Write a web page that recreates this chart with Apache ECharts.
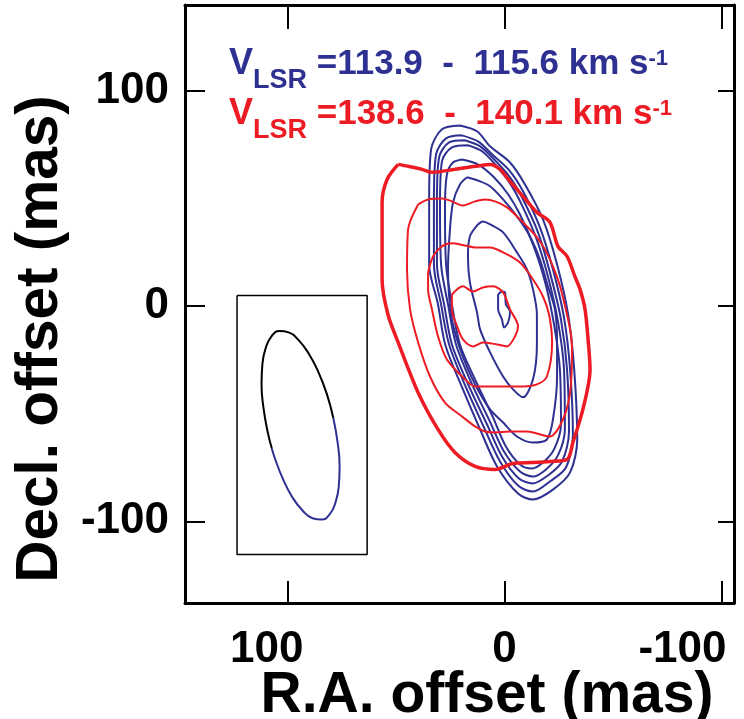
<!DOCTYPE html>
<html><head><meta charset="utf-8">
<script src="https://cdn.jsdelivr.net/npm/echarts@6/dist/echarts.min.js"></script>
<style>html,body{margin:0;padding:0;background:#fff}#c{width:744px;height:719px}</style>
</head><body><div id="c"></div>
<script>
// Axis tick values (mas)
const xTicks = [100, 0, -100];
const yTicks = [100, 0, -100];
// Blue contours (V_LSR 113.9-115.6), [RA offset, Decl offset] in mas
const blue1 = [[20.6,84.0],[12.7,81.3],[6.7,74.3],[-2.5,66.8],[-9.4,56.6],[-17.7,40.3],[-24.2,19.4],[-29.3,-3.8],[-32.1,-29.4],[-33.5,-62.0],[-30.2,-77.3],[-22.3,-85.3],[-13.1,-89.9],[-6.2,-87.1],[3.5,-74.5],[11.3,-57.3],[19.6,-37.8],[27.4,-17.8],[30.7,0.8],[34.8,19.4],[34.8,49.6],[33.9,72.9],[28.9,82.2],[20.6,84.0]];
const blue2 = [[19.7,79.4],[12.3,76.6],[5.8,70.6],[-2.5,62.7],[-8.5,53.4],[-16.3,36.6],[-22.3,17.1],[-27.4,-5.3],[-30.2,-29.4],[-31.5,-59.7],[-28.3,-75.0],[-20.9,-81.5],[-13.1,-86.2],[-6.2,-83.4],[2.1,-72.2],[9.5,-56.4],[17.8,-37.8],[25.6,-17.8],[29.3,0.8],[32.6,19.4],[32.6,49.6],[31.6,70.6],[27.0,78.0],[19.7,79.4]];
const blue3 = [[18.3,77.1],[11.3,74.3],[4.9,68.3],[-2.5,59.9],[-8.0,50.6],[-15.4,34.3],[-20.9,15.7],[-26.0,-6.2],[-28.8,-29.4],[-29.7,-58.3],[-26.5,-72.2],[-20.0,-78.7],[-13.1,-82.4],[-6.6,-80.1],[1.2,-69.9],[8.1,-55.0],[16.4,-37.3],[24.3,-17.8],[27.9,0.8],[31.2,19.4],[31.2,49.6],[30.2,69.2],[25.6,76.1],[18.3,77.1]];
const blue4 = [[16.9,74.8],[10.4,72.0],[4.0,65.5],[-2.5,57.1],[-7.6,47.8],[-14.5,31.9],[-20.0,13.8],[-24.6,-7.1],[-27.4,-29.4],[-27.8,-57.3],[-24.6,-69.4],[-19.1,-75.9],[-13.1,-79.2],[-7.1,-76.9],[0.3,-67.6],[6.7,-53.8],[15.0,-36.4],[22.4,-17.8],[26.1,0.8],[29.3,19.4],[29.8,47.3],[28.9,67.3],[24.3,73.8],[16.9,74.8]];
const blue5 = [[19.6,68.2],[12.3,65.9],[4.9,59.9],[-1.6,52.0],[-7.1,42.6],[-13.1,28.7],[-18.6,11.5],[-22.8,-8.5],[-25.5,-29.4],[-26.0,-55.0],[-22.8,-66.6],[-17.7,-72.7],[-12.6,-75.5],[-7.1,-73.6],[-0.6,-65.3],[5.3,-51.8],[13.2,-35.0],[20.6,-17.8],[24.3,0.8],[27.0,19.4],[27.5,45.0],[26.6,61.3],[23.8,66.8],[19.6,68.2]];
const blue6 = [[17.3,59.9],[11.3,58.0],[6.7,55.7],[0.7,49.6],[-5.7,41.7],[-11.7,32.4],[-16.3,21.7],[-20.0,9.2],[-23.2,-1.5],[-24.2,-16.8],[-24.2,-32.7],[-22.3,-52.7],[-19.5,-62.0],[-13.1,-63.4],[-5.7,-60.6],[0.7,-54.1],[6.7,-48.0],[13.6,-36.4],[19.6,-22.5],[24.3,-6.2],[26.1,17.1],[25.2,35.7],[23.8,48.2],[20.6,56.6],[17.3,59.9]];
const blue7 = [[12.3,38.0],[10.0,39.4],[6.7,38.0],[0.7,34.3],[-5.7,25.0],[-10.3,17.1],[-13.1,7.8],[-14.9,-3.8],[-14.9,-17.8],[-13.1,-34.0],[-8.5,-42.4],[-3.9,-38.7],[0.7,-32.7],[6.7,-21.5],[11.3,-10.8],[12.7,-3.0],[16.0,11.0],[16.9,23.1],[16.0,32.4],[12.3,38.0]];
const blue8 = [[3.0,5.4],[1.2,6.8],[-0.2,6.4],[-0.6,0.8],[-2.5,-2.5],[-1.6,-7.6],[0.3,-9.9],[1.2,-6.2],[3.0,-1.5],[3.0,3.1],[3.0,5.4]];
// Red contours (V_LSR 138.6-140.1)
const red1 = [[49.1,65.9],[44.5,65.0],[38.1,63.6],[33.5,62.2],[22.9,63.6],[13.6,65.0],[6.7,65.9],[2.1,63.6],[-2.5,58.0],[-8.5,51.0],[-14.9,43.6],[-20.9,39.0],[-24.6,27.8],[-28.8,23.2],[-32.4,13.8],[-34.8,7.8],[-37.1,-1.5],[-38.5,-15.5],[-39.4,-29.4],[-36.1,-48.0],[-31.5,-63.4],[-28.8,-71.3],[-20.9,-72.2],[-13.1,-72.7],[-3.9,-73.1],[4.4,-75.9],[13.6,-74.5],[22.9,-68.0],[30.7,-57.3],[39.9,-40.1],[49.1,-16.8],[53.8,-3.9],[56.5,12.4],[56.5,24.9],[56.5,48.2],[54.2,58.9],[49.1,65.9]];
const red2 = [[39.9,47.3],[35.3,49.6],[28.9,50.1],[24.3,48.7],[19.2,46.8],[13.6,48.7],[9.0,49.6],[4.4,48.7],[-1.1,45.9],[-5.7,41.7],[-10.3,37.1],[-14.9,32.0],[-18.6,26.4],[-22.3,18.5],[-25.6,9.2],[-27.9,-0.1],[-30.2,-10.8],[-31.1,-20.1],[-30.2,-40.1],[-26.9,-52.7],[-20.9,-60.6],[-10.3,-58.3],[-2.5,-58.3],[4.4,-58.7],[9.0,-58.3],[13.6,-55.9],[19.6,-51.3],[27.5,-44.8],[34.4,-32.7],[39.9,-16.8],[43.6,-1.5],[45.0,17.1],[44.5,35.7],[39.9,47.3]];
const red3 = [[35.3,15.7],[33.0,23.1],[28.9,27.8],[24.3,29.2],[18.3,28.2],[13.6,27.3],[6.7,27.3],[0.7,25.0],[-7.1,20.3],[-13.1,12.4],[-17.7,4.5],[-20.5,-3.9],[-21.9,-16.9],[-19.5,-32.7],[-14.9,-36.4],[-8.5,-37.3],[-1.1,-37.3],[6.7,-37.3],[13.6,-37.3],[19.6,-32.7],[26.6,-24.8],[30.7,-14.1],[33.5,-1.5],[35.3,7.8],[35.3,15.7]];
const red4 = [[24.3,5.4],[19.2,9.2],[14.6,6.8],[10.0,8.7],[5.3,9.2],[0.7,6.4],[-2.5,-1.5],[-6.2,-9.4],[-4.8,-14.1],[-1.1,-18.7],[3.5,-17.8],[10.0,-16.9],[14.6,-18.7],[19.2,-15.5],[21.9,-9.4],[24.3,-1.5],[24.3,5.4]];
// Beam outline (upper-left half black, lower-right half blue) and its box
const beamBlack = [[79.0,-52.0],[82.0,-40.8],[85.9,-30.6],[90.3,-22.1],[95.0,-15.8],[99.6,-12.2],[103.9,-11.6],[107.5,-14.0],[110.1,-19.2],[111.7,-26.8],[112.1,-36.4],[111.2,-47.3],[109.2,-58.8],[107.3,-66.3]];
const beamBlue = [[107.3,-66.3],[106.2,-70.0],[102.3,-80.2],[97.9,-88.8],[93.2,-95.0],[88.6,-98.6],[84.3,-99.2],[80.7,-96.8],[78.1,-91.6],[76.5,-84.0],[76.1,-74.4],[77.0,-63.5],[79.0,-52.0]];
const beamBox = [[123.4,5],[63.4,5],[63.4,-115.5],[123.4,-115.5],[123.4,5]];

const BLUE = '#2e3192', RED = '#ed1c24';
const FONT = 'Liberation Sans';

function contour(data, color, width) {
  return {type:'line', data:data, showSymbol:false, smooth:0.3, silent:true,
    lineStyle:{color:color, width:width}, animation:false};
}
const series = [
  contour(blue1, BLUE, 2), contour(blue2, BLUE, 2), contour(blue3, BLUE, 2), contour(blue4, BLUE, 2),
  contour(blue5, BLUE, 2), contour(blue6, BLUE, 2), contour(blue7, BLUE, 2), contour(blue8, BLUE, 2),
  contour(red1, RED, 3.5), contour(red2, RED, 2), contour(red3, RED, 2), contour(red4, RED, 2),
  {type:'line', data:beamBox, showSymbol:false, silent:true, lineStyle:{color:'#000', width:1.5}, animation:false},
  {type:'line', data:beamBlack, showSymbol:false, silent:true, smooth:true, lineStyle:{color:'#000', width:2}, animation:false},
  {type:'line', data:beamBlue, showSymbol:false, silent:true, smooth:true, lineStyle:{color:BLUE, width:2}, animation:false}
];

const xLabelRich = {
  a:{fontSize:44, fontWeight:'bold', fontFamily:FONT, color:'#000', padding:[0,42,0,0]},
  b:{fontSize:44, fontWeight:'bold', fontFamily:FONT, color:'#000'},
  c:{fontSize:44, fontWeight:'bold', fontFamily:FONT, color:'#000', padding:[0,78,0,0]}
};
function legendRich(col) {
  return {
    v:{fontSize:36, fontWeight:'bold', fontFamily:FONT, fill:col, verticalAlign:'bottom', padding:[0,0,12,0]},
    sub:{fontSize:27, fontWeight:'bold', fontFamily:FONT, fill:col, verticalAlign:'bottom'},
    m:{fontSize:35, fontWeight:'bold', fontFamily:FONT, fill:col, verticalAlign:'bottom', padding:[0,0,12,0]},
    sup:{fontSize:22, fontWeight:'bold', fontFamily:FONT, fill:col, verticalAlign:'bottom', padding:[0,0,24,0]}
  };
}

const chart = echarts.init(document.getElementById('c'));
chart.setOption({
  animation:false,
  backgroundColor:'#fff',
  grid:{left:185, right:10, top:5, bottom:116, containLabel:false, outerBoundsMode:'none'},
  xAxis:[
    {type:'value', position:'bottom', inverse:true, min:-105.8, max:147.4,
     axisLine:{show:true, onZero:false, lineStyle:{color:'#000', width:3}},
     axisTick:{show:true, inside:true, length:22, customValues:xTicks, lineStyle:{color:'#000', width:2}},
     axisLabel:{show:true, customValues:xTicks, margin:25,
       formatter:function(v){ return v===100 ? '{a|100}' : (v===-100 ? '{c|-100}' : '{b|' + v + '}'); },
       rich:xLabelRich},
     splitLine:{show:false},
     name:'R.A. offset (mas)', nameLocation:'middle', nameGap:65, nameMoveOverlap:false,
     nameTextStyle:{fontSize:57, fontWeight:'bold', fontFamily:FONT, color:'#000', padding:[0,0,0,55]}},
    {type:'value', position:'top', inverse:true, min:-105.8, max:147.4,
     axisLine:{show:true, onZero:false, lineStyle:{color:'#000', width:3}},
     axisTick:{show:true, inside:true, length:24, customValues:xTicks, lineStyle:{color:'#000', width:2}},
     axisLabel:{show:false}, splitLine:{show:false}}
  ],
  yAxis:[
    {type:'value', position:'left', min:-138, max:140,
     axisLine:{show:true, onZero:false, lineStyle:{color:'#000', width:3}},
     axisTick:{show:true, inside:true, length:20, customValues:yTicks, lineStyle:{color:'#000', width:2}},
     axisLabel:{show:true, customValues:yTicks, margin:16, fontSize:44, fontWeight:'bold', fontFamily:FONT, color:'#000'},
     splitLine:{show:false},
     name:'Decl. offset (mas)', nameLocation:'middle', nameGap:113,
     nameTextStyle:{fontSize:58.5, fontWeight:'bold', fontFamily:FONT, color:'#000', padding:[0,70,0,0]}},
    {type:'value', position:'right', min:-138, max:140,
     axisLine:{show:true, onZero:false, lineStyle:{color:'#000', width:3}},
     axisTick:{show:true, inside:true, length:16, customValues:yTicks, lineStyle:{color:'#000', width:2}},
     axisLabel:{show:false}, splitLine:{show:false}}
  ],
  graphic:[
    {type:'text', left:229, top:46, silent:true, style:{
      text:'{v|V}{sub|LSR}{m| =113.9  -  115.6 km s}{sup|-1}', rich:legendRich(BLUE)}},
    {type:'text', left:229, top:96, silent:true, style:{
      text:'{v|V}{sub|LSR}{m| =138.6  -  140.1 km s}{sup|-1}', rich:legendRich(RED)}}
  ],
  series:series
});
</script></body></html>
